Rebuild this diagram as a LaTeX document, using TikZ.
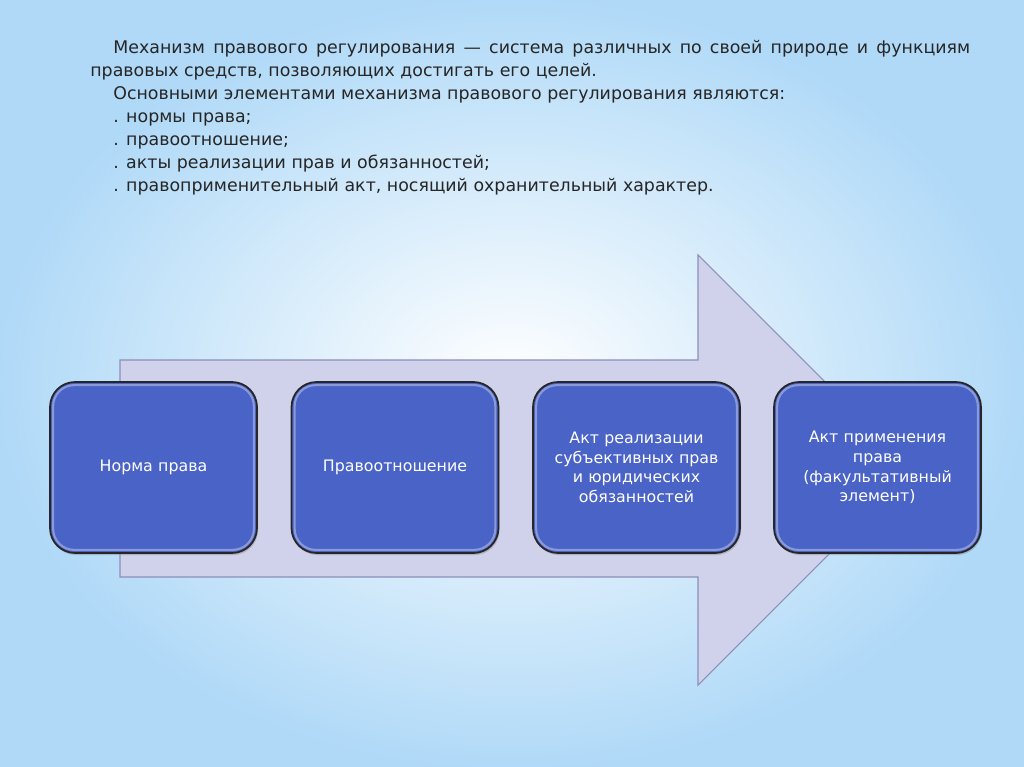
\documentclass[tikz,border=0pt]{standalone}
\usepackage{fontspec}
\setmainfont{DejaVu Sans}
\usetikzlibrary{shadows}
\definecolor{boxblue}{RGB}{74,99,198}
\definecolor{arrowfill}{RGB}{208,210,236}
\definecolor{arrowline}{RGB}{140,143,184}
\definecolor{skyblue}{RGB}{150,205,245}

\begin{document}
\begin{tikzpicture}
  [x=0.02cm,y=-0.02cm,
   every node/.style={font=\fontsize{9pt}{11.2pt}\selectfont},
   stage/.style={draw=black!85,line width=1pt,fill=boxblue,rounded corners=0.5cm,
     minimum width=4.14cm,minimum height=3.42cm,text width=3.7cm,align=center,
     text=white,drop shadow={shadow xshift=0.6pt,shadow yshift=-1.2pt,opacity=0.4}},
   gloss/.style={draw=white,opacity=0.35,line width=1.2pt,rounded corners=0.42cm}]
  \useasboundingbox (0,0) rectangle (1024,767);
  \shade[inner color=white,outer color=skyblue!75!white] (0,0) rectangle (1024,767);

  \node[anchor=north west,inner sep=0pt,text width=17.6cm,align=justify,text=black!85,
    font=\fontsize{9.9pt}{13.1pt}\selectfont] (intro) at (90,40)
    {\hspace*{0.46cm}Механизм правового регулирования — система различных по своей природе и функциям\linebreak
     правовых средств, позволяющих достигать его целей.\par
     \hspace*{0.46cm}Основными элементами механизма правового регулирования являются:\par
     \hspace*{0.46cm}. нормы права;\par
     \hspace*{0.46cm}. правоотношение;\par
     \hspace*{0.46cm}. акты реализации прав и обязанностей;\par
     \hspace*{0.46cm}. правоприменительный акт, носящий охранительный характер.};

  \draw[fill=arrowfill,draw=arrowline,line width=0.6pt]
    (120,360) -- (698,360) -- (698,255) -- (913,470) -- (698,685) -- (698,577) -- (120,577) -- cycle;

  \node[stage] (n1) at (153.5,467.5) {Норма права};
  \node[stage] (n2) at (395,467.5)   {Правоотношение};
  \node[stage] (n3) at (636.5,467.5) {Акт реализации\\субъективных прав\\и юридических\\обязанностей};
  \node[stage] (n4) at (877.5,467.5) {Акт применения\\права\\(факультативный\\элемент)};
  \foreach \n in {n1,n2,n3,n4}
    \draw[gloss] ([shift={(4,-4)}]\n.south west) rectangle ([shift={(-4,4)}]\n.north east);
\end{tikzpicture}
\end{document}
